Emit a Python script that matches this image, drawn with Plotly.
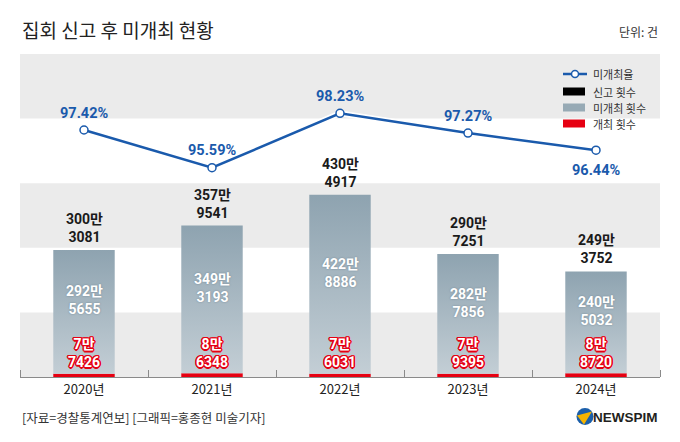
import plotly.graph_objects as go

# 집회 신고 후 미개최 현황 (단위: 건)
years = ['2020년', '2021년', '2022년', '2023년', '2024년']
reported = [3003081, 3579541, 4304917, 2907251, 2493752]   # 신고 횟수
not_held = [2925655, 3493193, 4228886, 2827856, 2405032]   # 미개최 횟수
held = [77426, 86348, 76031, 79395, 88720]                 # 개최 횟수
rate = [97.42, 95.59, 98.23, 97.27, 96.44]                 # 미개최율 (%)

FONT = 'Noto Sans CJK KR'
NUM_FONT = 'Roboto, Noto Sans CJK KR'
BLUE = '#1a5aac'
RED = '#e60012'
half = 0.24


def man(v):
    # 3003081 -> '300만<br>3081'
    return f'{v // 10000}만<br>{v % 10000}'


fig = go.Figure()

# alternating background bands
for k in range(0, 5, 2):
    fig.add_shape(type='rect', xref='paper', yref='paper', x0=0, x1=1,
                  y0=k * 0.2, y1=k * 0.2 + 0.2, fillcolor='#ebebeb',
                  line_width=0, layer='below')

# 미개최 part of each bar, with a vertical gradient
for i in range(len(years)):
    fig.add_trace(go.Scatter(
        x=[i - half, i - half, i + half, i + half, i - half],
        y=[held[i], reported[i], reported[i], held[i], held[i]],
        mode='lines', fill='toself', line=dict(width=0),
        fillgradient=dict(type='vertical',
                          colorscale=[[0, '#c3ced5'], [1, '#8ea3b0']]),
        hoverinfo='skip', showlegend=False))

# 개최 part
fig.add_trace(go.Bar(x=list(range(len(years))), y=held, width=2 * half,
                     marker=dict(color=RED, line_width=0), showlegend=False))

# 미개최율 line (white halo underneath)
fig.add_trace(go.Scatter(x=list(range(len(years))), y=rate, yaxis='y2',
                         mode='lines', line=dict(color='white', width=6),
                         hoverinfo='skip', showlegend=False))
fig.add_trace(go.Scatter(x=list(range(len(years))), y=rate, yaxis='y2',
                         mode='lines+markers',
                         line=dict(color=BLUE, width=2.5),
                         marker=dict(size=8, color='white',
                                     line=dict(color=BLUE, width=1.5)),
                         showlegend=False))

red_outline = ', '.join(f'{RED} {dx}px {dy}px 0'
                        for dx, dy in [(1.5, 0), (-1.5, 0), (0, 1.5), (0, -1.5),
                                       (1, 1), (-1, -1), (1, -1), (-1, 1)])

for i in range(len(years)):
    fig.add_annotation(x=i, y=reported[i], text=f'<b>{man(reported[i])}</b>',
                       yanchor='bottom', yshift=3, showarrow=False,
                       font=dict(size=14, color='#1a1a1a', family=NUM_FONT))
    fig.add_annotation(x=i, y=reported[i] / 2, text=f'<b>{man(not_held[i])}</b>',
                       yshift=13, showarrow=False,
                       font=dict(size=14, color='white', family=NUM_FONT,
                                 shadow='0px 0px 2px #6f8492'))
    fig.add_annotation(x=i, y=0, text=f'<b>{man(held[i])}</b>', yshift=24,
                       showarrow=False,
                       font=dict(size=14, color='white', family=NUM_FONT,
                                 shadow=red_outline))
    fig.add_annotation(x=i, y=rate[i], yref='y2', text=f'<b>{rate[i]:.2f}%</b>',
                       yshift=-20 if i == 4 else 17, showarrow=False,
                       font=dict(size=14.5, color=BLUE, family=NUM_FONT))


# hand-made legend; positions in px of the plot window, turned into paper fractions
def px(x):
    return (x - 20) / 640


def py(y):
    return (377 - y) / 323


fig.add_shape(type='line', xref='paper', yref='paper', x0=px(563), x1=px(587),
              y0=py(74), y1=py(74), line=dict(color=BLUE, width=2.5))
fig.add_shape(type='circle', xref='paper', yref='paper', xsizemode='pixel',
              ysizemode='pixel', xanchor=px(575), yanchor=py(74),
              x0=-3.5, x1=3.5, y0=-3.5, y1=3.5, fillcolor='white',
              line=dict(color=BLUE, width=1.5))
legend_rows = [('미개최율', None, 74), ('신고 횟수', '#000000', 91.5),
               ('미개최 횟수', '#97aab5', 107.5), ('개최 횟수', RED, 123.5)]
for name, color, yy in legend_rows:
    if color:
        fig.add_shape(type='rect', xref='paper', yref='paper',
                      x0=px(563), x1=px(585), y0=py(yy + 4), y1=py(yy - 4),
                      fillcolor=color, line_width=0)
    fig.add_annotation(xref='paper', yref='paper', x=px(591), y=py(yy),
                       xanchor='left', yanchor='middle', text=name,
                       showarrow=False, font=dict(size=11, color='#333'))

# title, unit, source
fig.add_annotation(xref='paper', yref='paper', x=0, y=py(29), xanchor='left',
                   yanchor='middle', text='집회 신고 후 미개최 현황',
                   showarrow=False, font=dict(size=19, color='#222'))
fig.add_annotation(xref='paper', yref='paper', x=1, y=py(31), xanchor='right',
                   yanchor='middle', text='단위: 건', showarrow=False,
                   font=dict(size=12, color='#333'))
fig.add_annotation(xref='paper', yref='paper', x=0, y=py(418), xanchor='left',
                   yanchor='middle', text='[자료=경찰통계연보] [그래픽=홍종현 미술기자]',
                   showarrow=False, font=dict(size=12.5, color='#333'))

# NEWSPIM logo
fig.add_shape(type='circle', xref='paper', yref='paper', xsizemode='pixel',
              ysizemode='pixel', xanchor=px(585), yanchor=py(416.5),
              x0=-8.5, x1=8.5, y0=-8.5, y1=8.5, fillcolor='#1b5faa', line_width=0)
fig.add_shape(type='path', xref='paper', yref='paper', xsizemode='pixel',
              ysizemode='pixel', xanchor=px(585), yanchor=py(416.5),
              path='M -8,1 L 7,5 L -1,-8 Z', fillcolor='#f5b400', line_width=0)
fig.add_annotation(xref='paper', yref='paper', x=1, y=py(417), xanchor='right',
                   yanchor='middle', text='<b>NEWSPIM</b>', showarrow=False,
                   font=dict(size=13.5, color='#231f20', family='Liberation Sans'))

# the page body has an 8px margin, so the figure is drawn 8px smaller
fig.update_layout(
    width=672, height=434,
    margin=dict(l=12, r=20, t=46, b=65),
    paper_bgcolor='white', plot_bgcolor='rgba(0,0,0,0)',
    font=dict(family=FONT),
    showlegend=False,
    xaxis=dict(range=[-0.5, 4.5], tickvals=list(range(len(years))),
               ticktext=years, ticks='', showgrid=False, zeroline=False,
               showline=True, linecolor='#8a8a8a', linewidth=1,
               tickfont=dict(size=13, color='#222'), ticklabelstandoff=0,
               minor=dict(tickvals=[k - 0.5 for k in range(len(years) + 1)],
                          ticks='inside', ticklen=7, tickcolor='#8a8a8a',
                          showgrid=False)),
    yaxis=dict(range=[0, 7.634e6], visible=False),
    yaxis2=dict(range=[85.43, 101.11], overlaying='y', visible=False),
)

fig.write_html('out.html')
